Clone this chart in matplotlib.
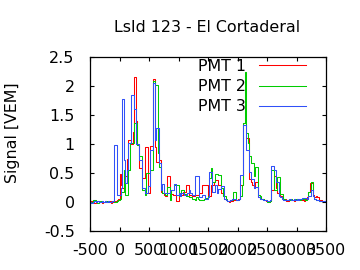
import numpy as np
import matplotlib
matplotlib.use("Agg")
import matplotlib.pyplot as plt
from matplotlib.ticker import FuncFormatter

# ── Trace data: 25 ns bins starting at -500 ns ───────────────────────────────
T0, BIN = -500, 25

pmt1 = [0.00, 0.01, 0.00, -0.01, 0.00, 0.01, 0.00, 0.00, -0.01, 0.00,
        0.01, 0.00, 0.00, 0.01, -0.01, 0.00, 0.00, 0.01, 0.03, 0.05,
        0.48, 0.30, 0.25, 0.35, 0.44, 0.75, 1.07, 1.07, 1.00, 1.20,
        2.15, 1.40, 0.98, 0.58, 0.58, 0.41, 0.41, 0.94, 0.94, 0.16,
        0.16, 0.96, 0.96, 2.12, 0.95, 0.69, 0.69, 0.72, 0.18, 0.15,
        0.12, 0.10, 0.45, 0.45, 0.15, 0.14, 0.12, 0.12, 0.01, 0.01,
        0.15, 0.15, 0.12, 0.17, 0.17, 0.29, 0.29, 0.12, 0.12, 0.10,
        0.10, 0.12, 0.12, 0.12, 0.15, 0.15, 0.29, 0.29, 0.29, 0.29,
        0.10, 0.10, 0.29, 0.29, 0.35, 0.38, 0.38, 0.29, 0.29, 0.15,
        0.15, 0.05, 0.03, 0.02, 0.00, 0.01, 0.02, 0.03, 0.04, 0.03,
        0.05, 0.05, 0.29, 0.29, 1.36, 1.36, 1.10, 1.10, 0.40, 0.35,
        0.30, 0.25, 0.35, 0.35, 0.09, 0.09, 0.06, 0.05, 0.03, 0.02,
        0.01, 0.00, 0.02, 0.20, 0.20, 0.44, 0.25, 0.15, 0.12, 0.10,
        0.08, 0.06, 0.05, 0.02, 0.02, 0.04, 0.05, 0.03, 0.02, 0.04,
        0.05, 0.06, 0.05, 0.04, 0.03, 0.02, 0.05, 0.08, 0.18, 0.32,
        0.32, 0.12, 0.08, 0.10, 0.08, 0.04, 0.03, 0.02, 0.02, 0.01]

pmt2 = [0.00, 0.00, 0.03, 0.03, 0.00, -0.01, 0.00, 0.01, 0.00, 0.00,
        0.00, 0.01, 0.00, 0.00, 0.00, 0.01, 0.00, 0.00, 0.02, 0.03,
        0.05, 0.18, 0.18, 0.55, 0.12, 0.12, 0.55, 1.01, 1.01, 1.01,
        1.36, 1.36, 0.98, 0.79, 0.79, 0.21, 0.21, 0.12, 0.50, 0.50,
        0.50, 0.55, 0.55, 2.09, 2.02, 2.02, 0.84, 0.61, 0.20, 0.15,
        0.15, 0.12, 0.26, 0.26, 0.04, 0.20, 0.20, 0.29, 0.29, 0.29,
        0.10, 0.10, 0.20, 0.20, 0.14, 0.10, 0.10, 0.08, 0.08, 0.05,
        0.05, 0.04, 0.08, 0.06, 0.03, 0.03, 0.03, 0.05, 0.07, 0.07,
        0.10, 0.41, 0.58, 0.35, 0.35, 0.49, 0.48, 0.47, 0.47, 0.25,
        0.10, 0.10, 0.05, 0.02, 0.02, 0.03, 0.03, 0.18, 0.18, 0.03,
        0.03, 0.05, 0.10, 0.30, 1.36, 2.25, 1.19, 1.01, 0.80, 0.67,
        0.67, 0.45, 0.61, 0.60, 0.12, 0.10, 0.05, 0.05, 0.04, 0.03,
        0.00, 0.00, 0.01, 0.55, 0.55, 0.20, 0.20, 0.43, 0.43, 0.14,
        0.14, 0.05, 0.04, 0.03, 0.03, 0.04, 0.05, 0.04, 0.03, 0.05,
        0.06, 0.05, 0.04, 0.05, 0.06, 0.05, 0.04, 0.05, 0.17, 0.17,
        0.34, 0.10, 0.05, 0.04, 0.03, 0.02, 0.02, 0.01, 0.01, 0.01]

pmt3 = [0.00, -0.01, 0.00, 0.01, 0.00, 0.02, 0.00, 0.00, 0.01, 0.00,
        0.02, 0.00, 0.01, 0.00, 0.00, 0.01, 0.98, 0.98, 0.12, 0.12,
        0.12, 0.25, 1.77, 0.73, 0.32, 0.55, 1.01, 1.01, 1.84, 1.84,
        1.61, 1.00, 1.00, 0.73, 0.73, 0.24, 0.24, 0.15, 0.15, 0.27,
        0.27, 0.90, 0.90, 2.05, 1.07, 1.27, 1.27, 0.67, 0.20, 0.31,
        0.15, 0.15, 0.15, 0.15, 0.20, 0.20, 0.20, 0.31, 0.12, 0.12,
        0.15, 0.10, 0.15, 0.15, 0.12, 0.12, 0.15, 0.20, 0.15, 0.12,
        0.12, 0.45, 0.45, 0.45, 0.08, 0.08, 0.12, 0.12, 0.05, 0.05,
        0.08, 0.52, 0.51, 0.18, 0.18, 0.30, 0.15, 0.23, 0.23, 0.27,
        0.27, 0.05, 0.03, 0.02, 0.02, 0.04, 0.05, 0.05, 0.05, 0.03,
        0.03, 0.05, 0.46, 0.46, 1.33, 1.33, 0.90, 0.90, 0.52, 0.40,
        0.40, 0.25, 0.26, 0.26, 0.09, 0.05, 0.05, 0.04, 0.03, 0.03,
        0.02, 0.02, 0.03, 0.62, 0.62, 0.55, 0.35, 0.35, 0.10, 0.08,
        0.05, 0.04, 0.03, 0.03, 0.04, 0.05, 0.04, 0.03, 0.05, 0.04,
        0.05, 0.04, 0.05, 0.06, 0.07, 0.07, 0.07, 0.05, 0.11, 0.11,
        0.20, 0.10, 0.05, 0.04, 0.03, 0.02, 0.02, 0.01, 0.01, 0.01]

labels = ["PMT 1", "PMT 2", "PMT 3"]
colors = ["#ff0000", "#00cc00", "#3050f8"]
title = "LsId 123 - El Cortaderal"

FS = 11.4
plt.rcParams["font.family"] = "DejaVu Sans"

fig = plt.figure(figsize=(3.6, 2.7), dpi=100)
ax = fig.add_axes([90/360, 1-231/270, 236/360, 174/270])

edges = T0 + BIN*np.arange(len(pmt1) + 1)
handles = []
for vals, lab, col in zip([pmt1, pmt2, pmt3], labels, colors):
    y = list(vals) + [vals[-1]]
    h, = ax.step(edges, y, where="post", color=col, lw=0.75, label=lab)
    handles.append(h)

ax.set_xlim(-500, 3500)
ax.set_ylim(-0.5, 2.5)
ax.set_xticks(np.arange(-500, 3501, 500))
ax.set_yticks(np.arange(-0.5, 2.51, 0.5))
fmt = FuncFormatter(lambda v, p: f"{v:g}")
ax.xaxis.set_major_formatter(fmt)
ax.yaxis.set_major_formatter(fmt)
ax.tick_params(direction="in", length=3.2, width=0.8, top=True, right=True,
               labelsize=FS, colors="black")
ax.tick_params(axis="x", pad=8.5)
ax.tick_params(axis="y", pad=11)
for sp in ax.spines.values():
    sp.set_linewidth(0.9)

fig.text(13/360, 1-133/270, "Signal [VEM]", rotation=90, ha="center", va="center",
         fontsize=FS)
fig.text(207/360, 1-27/270, title, ha="center", va="center", fontsize=FS)

ax.legend(handles=handles, loc="upper right", bbox_to_anchor=(306/360, 1-59/270),
          bbox_transform=fig.transFigure, frameon=False, markerfirst=False,
          fontsize=FS, handlelength=3.0, handletextpad=0.8, labelspacing=0.32,
          borderpad=0, borderaxespad=0, handleheight=0.7)

fig.savefig("out.png", dpi=100)
